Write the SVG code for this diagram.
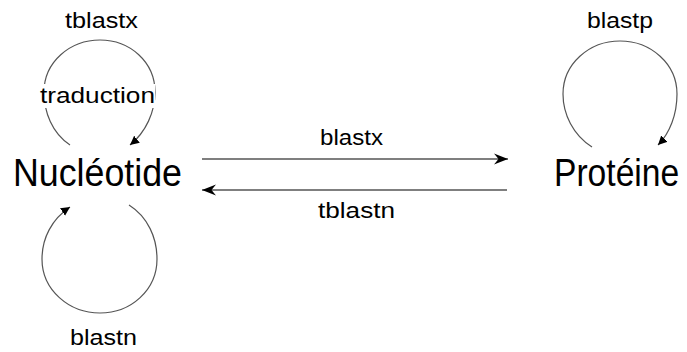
<svg xmlns="http://www.w3.org/2000/svg" width="687" height="352" viewBox="0 0 687 352">
  <style>
    .lbl { font-family: "Liberation Sans", Arial, sans-serif; font-size: 22px; fill: #000; }
    .node { font-family: "Liberation Sans", Arial, sans-serif; font-size: 38px; fill: #000; }
    .loop { fill: none; stroke: #555; stroke-width: 1.2; }
    .line { fill: none; stroke: #555; stroke-width: 1.4; }
  </style>
  <defs>
    <marker id="stealth" markerUnits="userSpaceOnUse" markerWidth="16" markerHeight="12" refX="14" refY="6" orient="auto">
      <path d="M0,0.5 L14,6 L0,11.5 L4.5,6 Z" fill="#000"/>
    </marker>
    <marker id="tri" markerUnits="userSpaceOnUse" markerWidth="12" markerHeight="10" refX="9" refY="4.5" orient="auto">
      <path d="M0,0 L9,4.5 L0,9 Z" fill="#000"/>
    </marker>
  </defs>
  <rect width="687" height="352" fill="#fff"/>
  <g id="connectors">
    <path id="loop-tblastx" class="loop" d="M70,145 C52,133 44,112 44,92 C44,62 70,40 100,40 C130,40 155,62 155,92 C155,112 146,132 130,145" marker-end="url(#tri)"/>
    <path id="loop-blastn" class="loop" d="M129,205 C148,217 157,238 157,259 C157,290 131,313 100,313 C69,313 42,290 42,259 C42,238 52,219 70,207" marker-end="url(#tri)"/>
    <path id="loop-blastp" class="loop" d="M592,147 C573,135 563,114 563,94 C563,64 589,41 620,41 C651,41 677,64 677,94 C677,114 670,133 658,145" marker-end="url(#tri)"/>
    <line id="edge-blastx" class="line" x1="202" y1="159" x2="508" y2="159" marker-end="url(#stealth)"/>
    <line id="edge-tblastn" class="line" x1="507" y1="190" x2="202" y2="190" marker-end="url(#stealth)"/>
  </g>
  <g id="labels">
    <text class="lbl" x="65" y="28" textLength="73" lengthAdjust="spacingAndGlyphs">tblastx</text>
    <rect x="40" y="84" width="115" height="24" fill="#fff"/>
    <text class="lbl" x="40" y="103" textLength="115" lengthAdjust="spacingAndGlyphs">traduction</text>
    <text class="lbl" x="70" y="345" textLength="67" lengthAdjust="spacingAndGlyphs">blastn</text>
    <text class="lbl" x="587" y="28" textLength="66" lengthAdjust="spacingAndGlyphs">blastp</text>
    <text class="lbl" x="320" y="145" textLength="63" lengthAdjust="spacingAndGlyphs">blastx</text>
    <text class="lbl" x="318" y="218" textLength="77" lengthAdjust="spacingAndGlyphs">tblastn</text>
  </g>
  <g id="node-nucleotide">
    <text class="node" x="13" y="186" textLength="169" lengthAdjust="spacingAndGlyphs">Nucléotide</text>
  </g>
  <g id="node-proteine">
    <text class="node" transform="translate(554,186) scale(0.885,1)" x="0" y="0">Protéine</text>
  </g>
</svg>
